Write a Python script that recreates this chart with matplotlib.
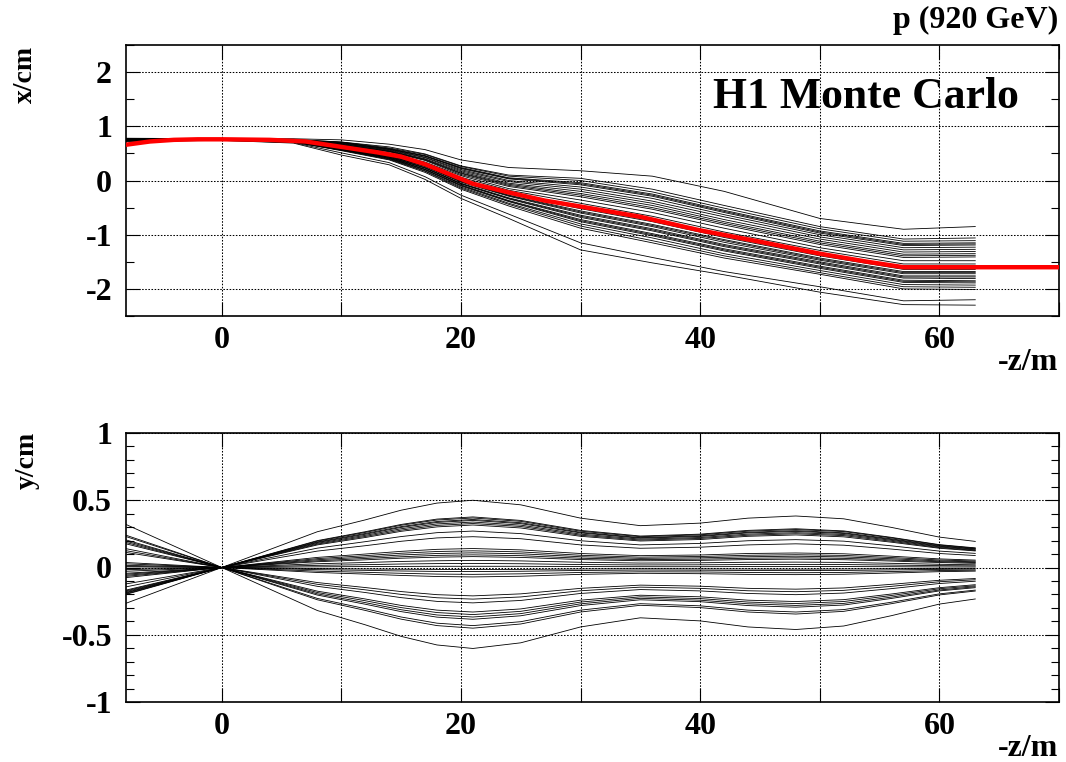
import matplotlib.pyplot as plt
from matplotlib.ticker import MultipleLocator, FuncFormatter

# knots along the beam line (-z in m) for the x trajectories
zx = [-8, 0, 6, 10, 14, 17, 20, 24, 30, 36, 42, 50, 57, 63]
x_tracks = [
    [0.78, 0.77, 0.77, 0.75, 0.67, 0.57, 0.38, 0.24, 0.18, 0.08, -0.20, -0.70, -0.90, -0.85],
    [0.77, 0.77, 0.76, 0.71, 0.62, 0.49, 0.27, 0.10, 0.04, -0.16, -0.46, -0.85, -1.08, -1.06],
    [0.77, 0.76, 0.75, 0.71, 0.60, 0.48, 0.26, 0.08, 0.00, -0.21, -0.51, -0.89, -1.12, -1.11],
    [0.77, 0.76, 0.75, 0.70, 0.59, 0.46, 0.24, 0.05, -0.04, -0.25, -0.55, -0.93, -1.16, -1.15],
    [0.77, 0.76, 0.75, 0.70, 0.58, 0.45, 0.23, 0.04, -0.06, -0.27, -0.57, -0.95, -1.18, -1.17],
    [0.77, 0.76, 0.75, 0.69, 0.58, 0.45, 0.22, 0.03, -0.08, -0.29, -0.59, -0.97, -1.20, -1.19],
    [0.76, 0.76, 0.75, 0.68, 0.57, 0.43, 0.20, 0.00, -0.12, -0.33, -0.63, -1.00, -1.24, -1.23],
    [0.76, 0.76, 0.75, 0.68, 0.56, 0.42, 0.18, -0.02, -0.16, -0.38, -0.67, -1.04, -1.28, -1.27],
    [0.76, 0.76, 0.74, 0.67, 0.55, 0.40, 0.16, -0.05, -0.20, -0.42, -0.72, -1.08, -1.32, -1.31],
    [0.76, 0.76, 0.74, 0.66, 0.54, 0.39, 0.14, -0.07, -0.24, -0.46, -0.76, -1.12, -1.36, -1.35],
    [0.76, 0.76, 0.74, 0.66, 0.54, 0.38, 0.13, -0.09, -0.27, -0.50, -0.79, -1.15, -1.39, -1.38],
    [0.76, 0.76, 0.74, 0.65, 0.53, 0.37, 0.11, -0.11, -0.30, -0.53, -0.82, -1.18, -1.42, -1.41],
    [0.75, 0.76, 0.74, 0.64, 0.51, 0.34, 0.09, -0.15, -0.36, -0.59, -0.88, -1.24, -1.48, -1.48],
    [0.75, 0.76, 0.73, 0.63, 0.50, 0.32, 0.06, -0.18, -0.42, -0.66, -0.95, -1.29, -1.54, -1.54],
    [0.75, 0.76, 0.73, 0.62, 0.48, 0.30, 0.03, -0.22, -0.48, -0.72, -1.01, -1.35, -1.60, -1.60],
    [0.75, 0.75, 0.73, 0.62, 0.48, 0.30, 0.02, -0.23, -0.50, -0.74, -1.03, -1.37, -1.62, -1.62],
    [0.75, 0.75, 0.73, 0.61, 0.47, 0.29, 0.01, -0.25, -0.52, -0.76, -1.05, -1.39, -1.64, -1.64],
    [0.75, 0.75, 0.73, 0.61, 0.46, 0.27, -0.01, -0.27, -0.56, -0.81, -1.09, -1.43, -1.68, -1.68],
    [0.74, 0.75, 0.72, 0.60, 0.45, 0.26, -0.02, -0.28, -0.58, -0.83, -1.11, -1.45, -1.70, -1.70],
    [0.74, 0.75, 0.72, 0.60, 0.45, 0.26, -0.03, -0.29, -0.60, -0.85, -1.14, -1.47, -1.72, -1.72],
    [0.74, 0.75, 0.72, 0.59, 0.44, 0.24, -0.05, -0.32, -0.64, -0.89, -1.18, -1.50, -1.76, -1.76],
    [0.74, 0.75, 0.72, 0.58, 0.43, 0.23, -0.06, -0.33, -0.66, -0.91, -1.20, -1.52, -1.78, -1.78],
    [0.74, 0.75, 0.72, 0.58, 0.43, 0.23, -0.06, -0.34, -0.68, -0.93, -1.22, -1.54, -1.80, -1.81],
    [0.74, 0.75, 0.72, 0.58, 0.42, 0.21, -0.08, -0.37, -0.72, -0.98, -1.26, -1.58, -1.84, -1.85],
    [0.74, 0.75, 0.72, 0.57, 0.41, 0.20, -0.09, -0.38, -0.74, -1.00, -1.28, -1.60, -1.86, -1.87],
    [0.74, 0.75, 0.72, 0.57, 0.41, 0.20, -0.10, -0.39, -0.76, -1.02, -1.30, -1.62, -1.88, -1.89],
    [0.74, 0.75, 0.71, 0.56, 0.40, 0.18, -0.12, -0.42, -0.80, -1.06, -1.35, -1.66, -1.92, -1.93],
    [0.74, 0.75, 0.71, 0.56, 0.39, 0.17, -0.14, -0.44, -0.84, -1.11, -1.39, -1.70, -1.96, -1.97],
    [0.73, 0.75, 0.71, 0.55, 0.38, 0.15, -0.16, -0.47, -0.88, -1.15, -1.43, -1.73, -2.00, -2.01],
    [0.73, 0.74, 0.70, 0.51, 0.33, 0.07, -0.27, -0.62, -1.15, -1.42, -1.68, -1.96, -2.22, -2.20],
    [0.72, 0.74, 0.69, 0.47, 0.29, 0.02, -0.33, -0.70, -1.28, -1.52, -1.74, -2.06, -2.29, -2.30],
]

# nominal orbit (red)
z_red = [-8, -6, -4, -2, 0, 4, 7, 10, 13, 15, 17, 19, 21, 24, 27, 30, 35, 40, 45, 50, 54, 57, 63, 70]
x_red = [0.66, 0.72, 0.75, 0.76, 0.76, 0.75, 0.72, 0.62, 0.52, 0.44, 0.30, 0.12, -0.06, -0.22,
         -0.37, -0.48, -0.67, -0.92, -1.13, -1.35, -1.50, -1.60, -1.60, -1.60]

# knots for the y trajectories
zy = [-8, 0, 8, 12, 15, 18, 21, 25, 30, 35, 40, 44, 48, 52, 56, 60, 63]
y_tracks = [
    [-0.266, 0, 0.266, 0.354, 0.426, 0.479, 0.500, 0.466, 0.367, 0.311, 0.330, 0.367, 0.383, 0.362, 0.298, 0.226, 0.194],
    [-0.200, 0, 0.200, 0.266, 0.320, 0.360, 0.376, 0.350, 0.276, 0.234, 0.248, 0.276, 0.288, 0.272, 0.224, 0.170, 0.146],
    [-0.196, 0, 0.196, 0.261, 0.314, 0.353, 0.368, 0.343, 0.270, 0.229, 0.243, 0.270, 0.282, 0.267, 0.220, 0.167, 0.143],
    [-0.190, 0, 0.190, 0.253, 0.304, 0.342, 0.357, 0.333, 0.262, 0.222, 0.236, 0.262, 0.274, 0.258, 0.213, 0.162, 0.139],
    [-0.186, 0, 0.186, 0.247, 0.298, 0.335, 0.350, 0.326, 0.257, 0.218, 0.231, 0.257, 0.268, 0.253, 0.208, 0.158, 0.136],
    [-0.180, 0, 0.180, 0.239, 0.288, 0.324, 0.338, 0.315, 0.248, 0.211, 0.223, 0.248, 0.259, 0.245, 0.202, 0.153, 0.131],
    [-0.174, 0, 0.174, 0.231, 0.278, 0.313, 0.327, 0.305, 0.240, 0.204, 0.216, 0.240, 0.251, 0.237, 0.195, 0.148, 0.127],
    [-0.168, 0, 0.168, 0.223, 0.269, 0.302, 0.316, 0.294, 0.232, 0.197, 0.208, 0.232, 0.242, 0.228, 0.188, 0.143, 0.123],
    [-0.144, 0, 0.144, 0.192, 0.230, 0.259, 0.271, 0.252, 0.199, 0.168, 0.179, 0.199, 0.207, 0.196, 0.161, 0.122, 0.105],
    [-0.122, 0, 0.122, 0.162, 0.195, 0.220, 0.229, 0.214, 0.168, 0.143, 0.151, 0.168, 0.176, 0.166, 0.137, 0.104, 0.089],
    [-0.075, 0, 0.075, 0.100, 0.120, 0.135, 0.141, 0.131, 0.104, 0.088, 0.093, 0.104, 0.108, 0.102, 0.084, 0.064, 0.055],
    [-0.066, 0, 0.066, 0.088, 0.106, 0.119, 0.124, 0.116, 0.091, 0.077, 0.082, 0.091, 0.095, 0.090, 0.074, 0.056, 0.048],
    [-0.058, 0, 0.058, 0.077, 0.093, 0.104, 0.109, 0.102, 0.080, 0.068, 0.072, 0.080, 0.084, 0.079, 0.065, 0.049, 0.042],
    [-0.050, 0, 0.050, 0.067, 0.080, 0.090, 0.094, 0.088, 0.069, 0.059, 0.062, 0.069, 0.072, 0.068, 0.056, 0.043, 0.037],
    [-0.043, 0, 0.043, 0.057, 0.069, 0.077, 0.081, 0.075, 0.059, 0.050, 0.053, 0.059, 0.062, 0.058, 0.048, 0.037, 0.031],
    [-0.028, 0, 0.028, 0.037, 0.045, 0.050, 0.053, 0.049, 0.039, 0.033, 0.035, 0.039, 0.040, 0.038, 0.031, 0.024, 0.020],
    [-0.016, 0, 0.016, 0.021, 0.026, 0.029, 0.030, 0.028, 0.022, 0.019, 0.020, 0.022, 0.023, 0.022, 0.018, 0.014, 0.012],
    [-0.005, 0, 0.005, 0.007, 0.008, 0.009, 0.009, 0.009, 0.007, 0.006, 0.006, 0.007, 0.007, 0.007, 0.006, 0.004, 0.004],
    [0.008, 0, -0.008, -0.011, -0.013, -0.014, -0.015, -0.014, -0.011, -0.009, -0.010, -0.011, -0.012, -0.011, -0.009, -0.007, -0.006],
    [0.016, 0, -0.016, -0.021, -0.026, -0.029, -0.030, -0.028, -0.022, -0.019, -0.020, -0.022, -0.023, -0.022, -0.018, -0.014, -0.012],
    [0.027, 0, -0.027, -0.036, -0.043, -0.049, -0.051, -0.047, -0.037, -0.032, -0.033, -0.037, -0.039, -0.037, -0.030, -0.023, -0.020],
    [0.037, 0, -0.037, -0.049, -0.059, -0.067, -0.070, -0.065, -0.051, -0.043, -0.046, -0.051, -0.053, -0.050, -0.041, -0.031, -0.027],
    [0.112, 0, -0.112, -0.149, -0.179, -0.202, -0.211, -0.196, -0.155, -0.131, -0.139, -0.155, -0.161, -0.152, -0.125, -0.095, -0.082],
    [0.125, 0, -0.125, -0.166, -0.200, -0.225, -0.235, -0.219, -0.173, -0.146, -0.155, -0.173, -0.180, -0.170, -0.140, -0.106, -0.091],
    [0.140, 0, -0.140, -0.186, -0.224, -0.252, -0.263, -0.245, -0.193, -0.164, -0.174, -0.193, -0.202, -0.190, -0.157, -0.119, -0.102],
    [0.176, 0, -0.176, -0.234, -0.282, -0.317, -0.331, -0.308, -0.243, -0.206, -0.218, -0.243, -0.253, -0.239, -0.197, -0.150, -0.128],
    [0.186, 0, -0.186, -0.247, -0.298, -0.335, -0.350, -0.326, -0.257, -0.218, -0.231, -0.257, -0.268, -0.253, -0.208, -0.158, -0.136],
    [0.196, 0, -0.196, -0.261, -0.314, -0.353, -0.368, -0.343, -0.270, -0.229, -0.243, -0.270, -0.282, -0.267, -0.220, -0.167, -0.143],
    [0.205, 0, -0.205, -0.273, -0.328, -0.369, -0.385, -0.359, -0.283, -0.240, -0.254, -0.283, -0.295, -0.279, -0.230, -0.174, -0.150],
    [0.230, 0, -0.230, -0.306, -0.368, -0.414, -0.432, -0.403, -0.317, -0.269, -0.285, -0.317, -0.331, -0.313, -0.258, -0.196, -0.168],
    [0.240, 0, -0.240, -0.319, -0.384, -0.432, -0.451, -0.420, -0.331, -0.281, -0.298, -0.331, -0.346, -0.326, -0.269, -0.204, -0.175],
    [0.320, 0, -0.320, -0.426, -0.512, -0.576, -0.602, -0.560, -0.442, -0.374, -0.397, -0.442, -0.461, -0.435, -0.358, -0.272, -0.234],
]

plt.rcParams['font.family'] = ['Liberation Serif', 'DejaVu Serif']
plt.rcParams['font.weight'] = 'bold'
plt.rcParams['axes.unicode_minus'] = False

W, H = 1066, 762
fig = plt.figure(figsize=(W / 100, H / 100), dpi=100)
ax1 = fig.add_axes([126 / W, 1 - 316 / H, 933 / W, 271 / H])
ax2 = fig.add_axes([126 / W, 1 - 702 / H, 933 / W, 269 / H])


def style(ax, ymaj, ymin, ylim):
    ax.set_xlim(-8, 70)
    ax.set_ylim(*ylim)
    ax.xaxis.set_major_locator(MultipleLocator(10))
    ax.xaxis.set_major_formatter(
        FuncFormatter(lambda v, p: f"{v:.0f}" if round(v) % 20 == 0 else ""))
    ax.yaxis.set_major_locator(MultipleLocator(ymaj))
    ax.yaxis.set_minor_locator(MultipleLocator(ymin))
    ax.yaxis.set_major_formatter(FuncFormatter(lambda v, p: f"{v:g}"))
    ax.grid(True, which='major', color='black', linestyle=(0, (1.5, 1.5)), linewidth=0.75)
    ax.tick_params(which='both', direction='in', top=True, right=True,
                   labelsize=23, width=0.8)
    ax.tick_params(which='major', length=10)
    ax.tick_params(which='minor', length=6)
    ax.tick_params(axis='x', pad=7)
    ax.tick_params(axis='y', pad=10)
    for s in ax.spines.values():
        s.set_linewidth(1.2)


style(ax1, 1, 0.5, (-2.5, 2.5))
style(ax2, 0.5, 0.1, (-1, 1))

for row in x_tracks:
    ax1.plot(zx, row, color='black', lw=0.6)
ax1.plot(z_red, x_red, color='red', lw=3.2, zorder=3)

for row in y_tracks:
    ax2.plot(zy, row, color='black', lw=0.6)

fig.text(1058 / W, 1 - 20 / H, 'p (920 GeV)', ha='right', va='center', fontsize=23)
fig.text(713 / W, 1 - 97 / H, 'H1 Monte Carlo', ha='left', va='center', fontsize=31.5)
fig.text(1058 / W, 1 - 362 / H, '-z/m', ha='right', va='center', fontsize=23)
fig.text(1058 / W, 1 - 748 / H, '-z/m', ha='right', va='center', fontsize=23)
fig.text(25 / W, 1 - 46 / H, 'x/cm', rotation=90, ha='center', va='top', fontsize=20)
fig.text(27 / W, 1 - 432 / H, 'y/cm', rotation=90, ha='center', va='top', fontsize=20)

fig.savefig('out.png', dpi=100)
